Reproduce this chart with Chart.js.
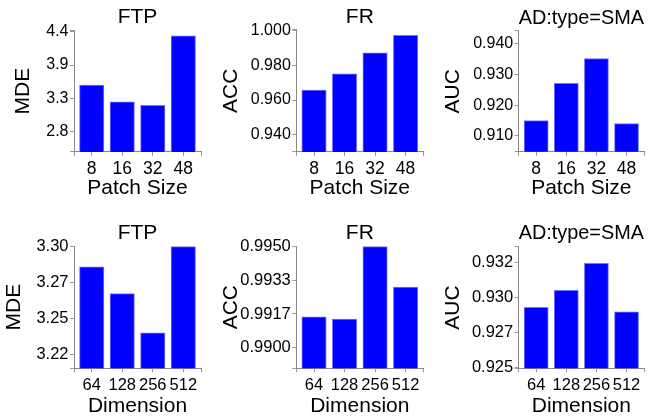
<!DOCTYPE html>
<html>
<head>
<meta charset="utf-8">
<script src="https://cdn.jsdelivr.net/npm/chart.js@4.4.0/dist/chart.umd.min.js"></script>
<style>
  body { margin: 0; background: #fff; }
  #fig { position: relative; width: 665px; height: 420px; }
  #fig canvas { position: absolute; left: 0; top: 0; }
</style>
</head>
<body>
<div id="fig">
  <canvas id="c0" width="665" height="420"></canvas>
  <canvas id="c1" width="665" height="420"></canvas>
  <canvas id="c2" width="665" height="420"></canvas>
  <canvas id="c3" width="665" height="420"></canvas>
  <canvas id="c4" width="665" height="420"></canvas>
  <canvas id="c5" width="665" height="420"></canvas>
</div>
<script>
// categories
const patchSizes = ['8', '16', '32', '48'];
const dimensions = ['64', '128', '256', '512'];

// values
const ftpPatch = [3.547, 3.280, 3.222, 4.336];
const frPatch  = [0.9658, 0.9752, 0.9874, 0.9975];
const adPatch  = [0.9150, 0.9271, 0.9351, 0.9140];
const ftpDim   = [3.2851, 3.2651, 3.2359, 3.3000];
const frDim    = [0.99152, 0.99142, 0.99500, 0.99300];
const adDim    = [0.92903, 0.93016, 0.93196, 0.92873];

// y ranges, tick values and tick labels
const ftpPatchRange = [2.475, 4.427];
const ftpPatchTicks = [2.8, 3.3333, 3.8667, 4.4];
const ftpPatchLabels = ['2.8', '3.3', '3.9', '4.4'];
const frPatchRange = [0.9299, 1.0008];
const frPatchTicks = [0.94, 0.96, 0.98, 1.0];
const frPatchLabels = ['0.940', '0.960', '0.980', '1.000'];
const adPatchRange = [0.9049, 0.9441];
const adPatchTicks = [0.91, 0.92, 0.93, 0.94];
const adPatchLabels = ['0.910', '0.920', '0.930', '0.940'];
const ftpDimRange = [3.2096, 3.3005];
const ftpDimTicks = [3.22, 3.24667, 3.27333, 3.30];
const ftpDimLabels = ['3.22', '3.25', '3.27', '3.30'];
const frDimRange = [0.98898, 0.99503];
const frDimTicks = [0.99, 0.991667, 0.993333, 0.995];
const frDimLabels = ['0.9900', '0.9917', '0.9933', '0.9950'];
const adDimRange = [0.92497, 0.93307];
const adDimTicks = [0.925, 0.927333, 0.929667, 0.932];
const adDimLabels = ['0.925', '0.927', '0.930', '0.932'];

const FONT = "'Liberation Sans', Arial, Helvetica, sans-serif";
const X_MIN = -0.58, X_MAX = 3.58;

const panels = [
  { title: 'FTP', yTitle: 'MDE', xTitle: 'Patch Size', cats: patchSizes, values: ftpPatch, range: ftpPatchRange, ticks: ftpPatchTicks, labels: ftpPatchLabels,
    box: { l: 74, t: 30, r: 201, b: 152 }, yLabelX: 23.3, titleY: 17.5, xH: 48.9, yTickSize: 16, xTickSize: 17.5 },
  { title: 'FR', yTitle: 'ACC', xTitle: 'Patch Size', cats: patchSizes, values: frPatch, range: frPatchRange, ticks: frPatchTicks, labels: frPatchLabels,
    box: { l: 296.3, t: 29.3, r: 423.3, b: 152 }, yLabelX: 230.8, titleY: 17, xH: 48.9, yTickSize: 16, xTickSize: 17.5 },
  { title: 'AD:type=SMA', yTitle: 'AUC', xTitle: 'Patch Size', cats: patchSizes, values: adPatch, range: adPatchRange, ticks: adPatchTicks, labels: adPatchLabels,
    box: { l: 518.7, t: 30.7, r: 644, b: 151.7 }, yLabelX: 452.8, titleY: 18.3, xH: 49.2, yTickSize: 16, xTickSize: 17.5 },
  { title: 'FTP', yTitle: 'MDE', xTitle: 'Dimension', cats: dimensions, values: ftpDim, range: ftpDimRange, ticks: ftpDimTicks, labels: ftpDimLabels,
    box: { l: 74, t: 246, r: 201, b: 368.3 }, yLabelX: 14.3, titleY: 232.8, xH: 50.5, yTickSize: 16.5, xTickSize: 16.5 },
  { title: 'FR', yTitle: 'ACC', xTitle: 'Dimension', cats: dimensions, values: frDim, range: frDimRange, ticks: frDimTicks, labels: frDimLabels,
    box: { l: 296.3, t: 246, r: 423.3, b: 368.3 }, yLabelX: 231.7, titleY: 233.3, xH: 50.5, yTickSize: 16.5, xTickSize: 16.5 },
  { title: 'AD:type=SMA', yTitle: 'AUC', xTitle: 'Dimension', cats: dimensions, values: adDim, range: adDimRange, ticks: adDimTicks, labels: adDimLabels,
    box: { l: 518.7, t: 246.7, r: 644, b: 368.3 }, yLabelX: 452.8, titleY: 233, xH: 50.5, yTickSize: 16.5, xTickSize: 16.5 }
];

function makeChart(id, p) {
  const half = 21 * 1.2 / 2;
  const titlePad = Math.max(0, p.box.t - p.titleY - half);
  const padLeft = p.yLabelX - half;
  const yW = p.box.l - padLeft;
  const pitch = (p.box.r - p.box.l) / (X_MAX - X_MIN);

  new Chart(document.getElementById(id), {
    type: 'bar',
    data: {
      datasets: [{
        data: p.values.map((v, i) => ({ x: i, y: v })),
        backgroundColor: '#0000ff',
        borderColor: '#7474ff',
        borderWidth: 1,
        barThickness: pitch * 0.8
      }]
    },
    options: {
      responsive: false,
      animation: false,
      devicePixelRatio: 1,
      layout: {
        padding: {
          left: padLeft,
          right: 665 - p.box.r,
          top: p.titleY - half,
          bottom: 420 - p.box.b - p.xH
        }
      },
      plugins: {
        legend: { display: false },
        tooltip: { enabled: false },
        title: {
          display: true,
          text: p.title,
          fullSize: false,
          color: '#000',
          font: { family: FONT, size: 21, weight: 'normal', lineHeight: 1.2 },
          padding: { top: 0, bottom: titlePad }
        }
      },
      scales: {
        x: {
          type: 'linear',
          min: X_MIN,
          max: X_MAX,
          offset: false,
          afterBuildTicks: s => { s.ticks = [X_MIN, 0, 1, 2, 3, X_MAX].map(v => ({ value: v })); },
          afterFit: s => { s.height = p.xH; },
          ticks: {
            autoSkip: false,
            maxRotation: 0,
            padding: 3,
            color: '#000',
            font: { family: FONT, size: p.xTickSize },
            callback: v => Number.isInteger(v) ? p.cats[v] : ''
          },
          grid: { offset: false, drawOnChartArea: false, drawTicks: true, tickLength: 4, color: '#999' },
          border: { display: true, color: '#888' },
          title: {
            display: true,
            text: p.xTitle,
            color: '#000',
            font: { family: FONT, size: 21, lineHeight: 1.2 },
            padding: 0
          }
        },
        y: {
          min: p.range[0],
          max: p.range[1],
          afterBuildTicks: s => { s.ticks = [p.range[0], ...p.ticks, p.range[1]].map(v => ({ value: v })); },
          afterFit: s => { s.width = yW; },
          ticks: {
            autoSkip: false,
            padding: 1.5,
            color: '#000',
            font: { family: FONT, size: p.yTickSize },
            callback: (v, i, all) => (i === 0 || i === all.length - 1) ? '' : p.labels[i - 1]
          },
          grid: { drawOnChartArea: false, drawTicks: true, tickLength: 4, color: '#999' },
          border: { display: true, color: '#888' },
          title: {
            display: true,
            text: p.yTitle,
            color: '#000',
            font: { family: FONT, size: 21, lineHeight: 1.2 },
            padding: 0
          }
        }
      }
    }
  });
}

panels.forEach((p, i) => makeChart('c' + i, p));
</script>
</body>
</html>
